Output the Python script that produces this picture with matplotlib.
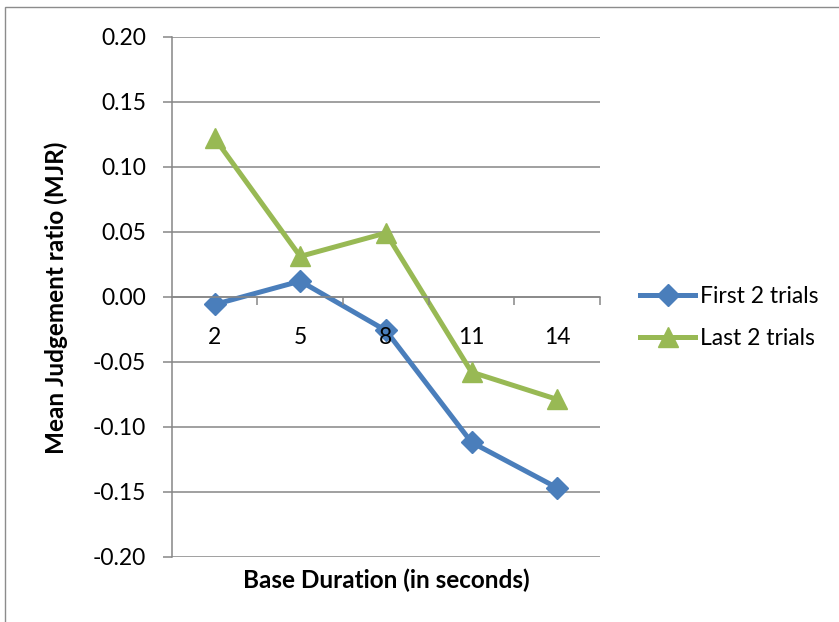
import matplotlib
matplotlib.use("Agg")
from matplotlib import pyplot as plt
from matplotlib.patches import Rectangle
import numpy as np

durations = ["2", "5", "8", "11", "14"]
first_trials = [-0.006, 0.012, -0.026, -0.112, -0.147]
last_trials = [0.122, 0.031, 0.049, -0.058, -0.079]
y_ticks = [0.20, 0.15, 0.10, 0.05, 0.00, -0.05, -0.10, -0.15, -0.20]

plt.rcParams['font.family'] = ['Lato', 'DejaVu Sans']

fig = plt.figure(figsize=(8.39, 6.22), dpi=100)
ax = fig.add_axes([0.2047, 0.105, 0.5104, 0.836])

# outer chart border like the excel frame
fig.patches.append(Rectangle((5 / 839, -0.1), 2.0, 1.1 - 7 / 622, transform=fig.transFigure,
                             fill=False, edgecolor='#8c8c8c', linewidth=1.0))

grid_col = '#868686'
x = np.arange(len(durations))

ax.plot(x, first_trials, color='#4a7ebb', linewidth=3.6, marker='D', markersize=11,
        label='First 2 trials', zorder=2, clip_on=False)
ax.plot(x, last_trials, color='#98b954', linewidth=3.6, marker='^', markersize=14,
        label='Last 2 trials', zorder=2, clip_on=False)

ax.set_xlim(-0.5, len(durations) - 0.5)
ax.set_ylim(-0.2, 0.2)
ax.set_yticks(y_ticks)
ax.set_yticklabels(['%.2f' % v for v in y_ticks])
ax.set_xticks(x)
ax.set_xticklabels(durations)
ax.set_xticks(np.arange(len(durations)) + 0.5, minor=True)
# tick labels on top of the lines (the "8" sits over the blue line)
ax.set_axisbelow(False)

for v in y_ticks:
    ax.axhline(v, color=grid_col, linewidth=1.1, zorder=1)

for s in ['top', 'right']:
    ax.spines[s].set_visible(False)
ax.spines['left'].set_color(grid_col)
ax.spines['left'].set_linewidth(1.1)
ax.spines['bottom'].set_position(('data', 0))
ax.spines['bottom'].set_color(grid_col)
ax.spines['bottom'].set_linewidth(1.1)

ax.tick_params(axis='y', direction='out', length=6.5, width=1.1, color=grid_col,
               pad=12, labelsize=16.5)
ax.tick_params(axis='x', which='major', length=0, pad=22, labelsize=16.5)
ax.tick_params(axis='x', which='minor', direction='out', length=6, width=1.1, color=grid_col)

ax.set_xlabel('Base Duration (in seconds)', fontsize=17.5, fontweight='bold')
ax.xaxis.set_label_coords(0.5, -0.023)
ax.set_ylabel('Mean Judgement ratio (MJR)', fontsize=17.5, fontweight='bold')
ax.yaxis.set_label_coords(-0.242, 0.497)

ax.legend(loc='center left', bbox_to_anchor=(640 / 839, 1 - 317.5 / 622),
          bbox_transform=fig.transFigure, frameon=False, fontsize=16.5,
          borderpad=0, borderaxespad=0,
          handlelength=2.4, handletextpad=0.2, labelspacing=0.95)

plt.savefig('out.png', dpi=100)
